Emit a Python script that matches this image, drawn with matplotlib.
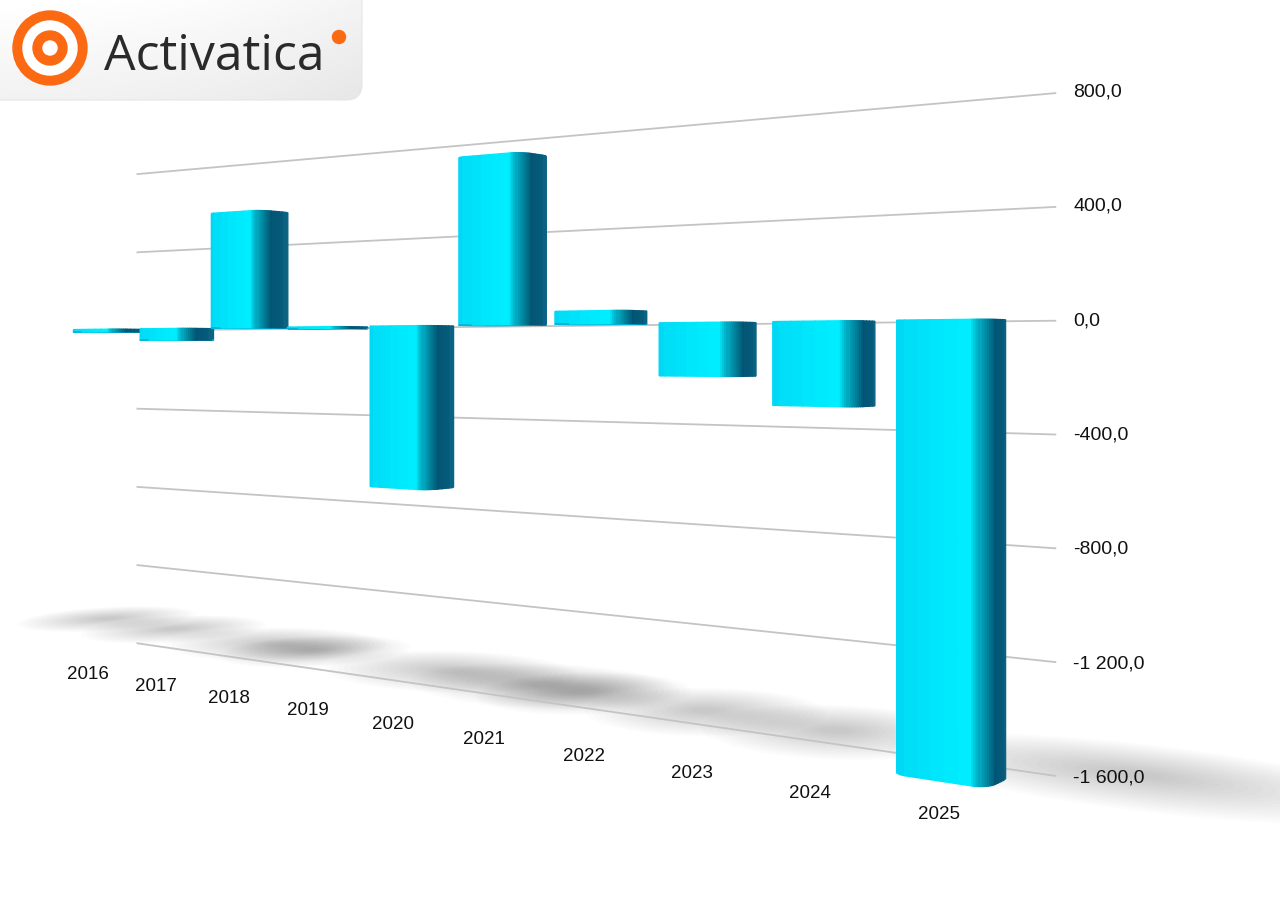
import numpy as np
import matplotlib
matplotlib.use('Agg')
import matplotlib.pyplot as plt
from matplotlib.patches import FancyBboxPatch, Circle
from matplotlib.colors import to_rgb
from mpl_toolkits.mplot3d.art3d import Poly3DCollection

# Chart data:
years = ['2016', '2017', '2018', '2019', '2020', '2021', '2022', '2023', '2024', '2025']
values = [-12, -54, 526, -7, -684, 689, 50, -200, -303, -1570]
grid_levels = [-1600, -1200, -800, -400, 0, 400, 800]
grid_labels = ['-1 600,0', '-1 200,0', '-800,0', '-400,0', '0,0', '400,0', '800,0']

# Figure size in pixels:
W, H = 1280, 914
fig = plt.figure(figsize=(W / 100, H / 100), dpi=100)

# Camera set-up (x, y in bar-index units, z in value units):
theta = np.radians(30)          # rotation of the wall away from the viewer
g = 0.00188                     # index units per value unit
cam = np.array([14.35, -9.7])   # camera position on the floor plan
eye_z = -110                    # camera height (value units)
focal_px = 1638                 # focal length in pixels
pp = (957, 352)                 # principal point in pixels (from top-left)
dist = -cam[1] / np.cos(theta)
target = cam + dist * np.array([-np.sin(theta), np.cos(theta)])

# Geometry of the scene:
bar_w, bar_d, bar_front, corner = 0.72, 0.33, -0.68, 0.11
wall_x = (-0.35, 9.5)
half_x, half_y, half_z = 6.0, 2.0, 1300.0

ax = fig.add_axes([0, 0, 1, 1], projection='3d', computed_zorder=False)
ax.view_init(elev=0, azim=np.degrees(theta) - 90)
raw = np.array([2 * half_x, 2 * half_y, 2 * half_z * g])
ax.set_box_aspect(tuple(raw))
k = np.linalg.norm(ax._box_aspect) / np.linalg.norm(raw)
f = dist * k / 10
ax.set_proj_type('persp', focal_length=f)
P = focal_px / f
S = 0.185 * P
left = pp[0] - 0.095 * P
bottom = (H - pp[1]) - 0.095 * P
ax.set_position([left / W, bottom / H, S / W, S / H])
ax.set_axis_off()
ax.patch.set_alpha(0)
ax.set_xlim(target[0] - half_x, target[0] + half_x)
ax.set_ylim(target[1] - half_y, target[1] + half_y)
ax.set_zlim(eye_z - half_z, eye_z + half_z)


def lerp(c1, c2, t):
    a, b = np.array(to_rgb(c1)), np.array(to_rgb(c2))
    return tuple(a + (b - a) * t)


def rounded_outline(x0, x1, y0, y1, r, n=12, m=6):
    # counter-clockwise outline of a rounded rectangle, front edge first
    pts = []
    pts += [(x, y0) for x in np.linspace(x0 + r, x1 - r, m)]
    pts += [(x1 - r + r * np.cos(a), y0 + r + r * np.sin(a)) for a in np.radians(np.linspace(-90, 0, n))]
    pts += [(x1, y) for y in np.linspace(y0 + r, y1 - r, 4)]
    pts += [(x1 - r + r * np.cos(a), y1 - r + r * np.sin(a)) for a in np.radians(np.linspace(0, 90, 5))]
    pts += [(x0 + r + r * np.cos(a), y1 - r + r * np.sin(a)) for a in np.radians(np.linspace(90, 180, 5))]
    pts += [(x0 + r + r * np.cos(a), y0 + r + r * np.sin(a)) for a in np.radians(np.linspace(180, 270, 5))]
    clean = [pts[0]]
    for p in pts[1:]:
        if np.hypot(p[0] - clean[-1][0], p[1] - clean[-1][1]) > 1e-9:
            clean.append(p)
    if np.hypot(clean[-1][0] - clean[0][0], clean[-1][1] - clean[0][1]) < 1e-9:
        clean.pop()
    return np.array(clean)


def facet_colour(phi, u, v):
    if abs(phi + 90) < 0.5:                       # front face
        return lerp('#00D8F5', '#00EEFF', min(1, u / 0.8))
    if -90 < phi < -0.5:                          # rounded front-right edge
        return lerp('#00EEFF', '#004F6D', ((phi + 90) / 90) ** 0.7)
    if abs(phi) <= 0.5:                           # right side face
        return lerp('#004F6D', '#0B6383', v)
    if 0 < phi <= 135:
        return to_rgb('#0B6383')
    return to_rgb('#00D8F5')


def project(x, y, z):
    # 3D data point -> 2D data coordinates of the 3D axes
    vec = ax.get_proj() @ np.array([x, y, z, 1.0])
    return vec[0] / vec[3], vec[1] / vec[3]


# Soft floor shadows:
shadow_polys, shadow_cols = [], []
ang = np.linspace(0, 2 * np.pi, 60)
for i, v in enumerate(values):
    length = 1.4 + 1.0 * abs(v) / 1000
    xc = 1.15 * i - 2.0 + abs(v) / 1000
    yc = 0.75 - 0.05 * i
    for s in np.linspace(1.25, 0.15, 18):
        xs = xc + s * length / 2 * np.cos(ang)
        ys = yc + s * 0.65 * np.sin(ang)
        shadow_polys.append(list(zip(xs, ys, np.full_like(xs, -1600))))
        shadow_cols.append((0, 0, 0, 0.011))
shadows = Poly3DCollection(shadow_polys, facecolors=shadow_cols, edgecolors='none', zorder=0)
ax.add_collection3d(shadows)

# Wall grid lines:
for lv in grid_levels:
    ax.plot(wall_x, [0, 0], [lv, lv], color='#c4c4c4', lw=1.3, zorder=1)

# Bars as rounded prisms (only the faces turned towards the camera):
bar_polys, bar_cols = [], []
for i, v in enumerate(values):
    x0, x1 = i - bar_w / 2, i + bar_w / 2
    y0, y1 = bar_front, bar_front + bar_d
    z0, z1 = min(0, v), max(0, v)
    pts = rounded_outline(x0, x1, y0, y1, corner)
    for j in range(len(pts)):
        p, q = pts[j], pts[(j + 1) % len(pts)]
        dx, dy = q - p
        mx, my = (p + q) / 2
        if dy * (cam[0] - mx) - dx * (cam[1] - my) <= 0:
            continue
        phi = np.degrees(np.arctan2(-dx, dy))
        u = (mx - x0) / (x1 - x0)
        w_ = (my - y0) / (y1 - y0)
        bar_polys.append([(p[0], p[1], z0), (q[0], q[1], z0), (q[0], q[1], z1), (p[0], p[1], z1)])
        bar_cols.append(facet_colour(phi, u, w_))
    if z0 > eye_z:
        bar_polys.append([(x, y, z0) for x, y in pts])
        bar_cols.append(to_rgb('#00B4DA'))
    if z1 < eye_z:
        bar_polys.append([(x, y, z1) for x, y in pts])
        bar_cols.append(to_rgb('#3FEAFF'))
bars = Poly3DCollection(bar_polys, facecolors=bar_cols, edgecolors=bar_cols, linewidths=1.0, zorder=3)
ax.add_collection3d(bars)

# Value labels at the right end of the wall:
for lv, lab in zip(grid_levels, grid_labels):
    tx, ty = project(wall_x[1] + 0.13, 0, lv)
    ax.text2D(tx, ty, lab, transform=ax.transData, ha='left', va='center', fontsize=14,
              family='Liberation Sans', color='#111111', zorder=6)

# Year labels along the floor edge:
for i, yr in enumerate(years):
    tx, ty = project(i + 0.05, -0.75, -1672)
    ax.text2D(tx, ty, yr, transform=ax.transData, ha='center', va='center', fontsize=13.5,
              family='Liberation Sans', color='#111111', zorder=6)

# Logo badge:
lw_px, lh_px = 366, 102
lax = fig.add_axes([0, 1 - lh_px / H, lw_px / W, lh_px / H])
lax.set_xlim(0, lw_px)
lax.set_ylim(lh_px, 0)
lax.axis('off')
badge = FancyBboxPatch((-40, -40), 402, 140, boxstyle='round,pad=0,rounding_size=16',
                       facecolor='none', edgecolor='#e6e6e6', lw=0.8)
lax.add_patch(badge)
gx, gy = np.meshgrid(np.linspace(0, 1, 200), np.linspace(0, 1, 60))
grad = 1 - 0.09 * np.clip(0.6 * gy + 0.5 * gx ** 2, 0, 1)
img = lax.imshow(grad, cmap='gray', vmin=0, vmax=1, extent=(0, lw_px, lh_px, 0),
                 aspect='auto', zorder=0)
img.set_clip_path(badge)
orange = '#FB6A12'
for r, c in [(37, orange), (27, 'white'), (17, orange), (7, 'white')]:
    lax.add_patch(Circle((50, 48), r, color=c, zorder=2))
lax.text(104, 70, 'Activatica', fontsize=36, family='Open Sans', color='#2a2a2a',
         ha='left', va='baseline', zorder=2)
lax.add_patch(Circle((339, 37), 6.5, color=orange, zorder=2))

fig.savefig('out.png', dpi=100, facecolor='white')
